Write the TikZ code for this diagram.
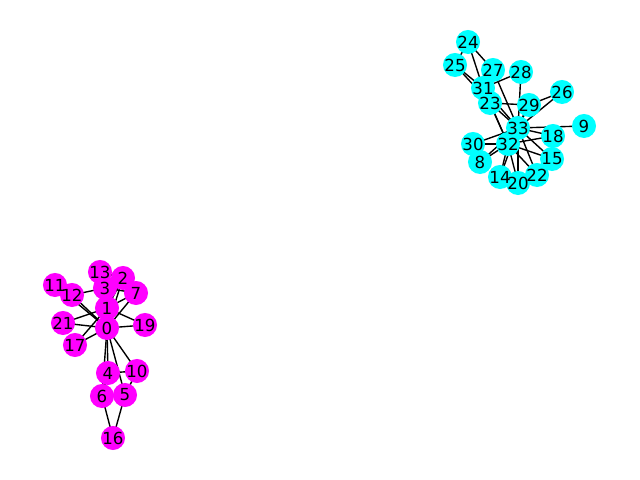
\documentclass[tikz,border=0pt]{standalone}
\usepackage{fontspec}
\setmainfont{DejaVu Sans}
\usetikzlibrary{backgrounds}
\definecolor{cy}{HTML}{00FFFF}
\definecolor{mg}{HTML}{FF00FF}
\begin{document}
\begin{tikzpicture}[x=0.01in,y=-0.01in,
  dotA/.style={circle,fill=mg,draw=none,minimum size=0.24in,inner sep=0pt},
  dotB/.style={circle,fill=cy,draw=none,minimum size=0.24in,inner sep=0pt},
  lab/.style={font=\fontsize{12}{14}\selectfont,inner sep=0pt,text=black},
  edge/.style={draw=black,line width=1pt}]
\useasboundingbox (0,0) rectangle (640,480);
% nodes in order 0..33
\foreach \n/\x/\y/\s in {0/107/328/dotA,1/107/308/dotA,2/123/278/dotA,3/105/288/dotA,4/108/373/dotA,5/125/395/dotA,6/102/396/dotA,7/136/293/dotA,8/480/162/dotB,9/584/126/dotB,10/137/371/dotA,11/55/285/dotA,12/72/295/dotA,13/100/272/dotA,14/500/177/dotB,15/552/159/dotB,16/113/438/dotA,17/75/345/dotA,18/553/136/dotB,19/145/325/dotA,20/518/183/dotB,21/63/323/dotA,22/537/175/dotB,23/490/103/dotB,24/468/42/dotB,25/455/65/dotB,26/562/92/dotB,27/493/70/dotB,28/521/72/dotB,29/529/105/dotB,30/473/144/dotB,31/483/88/dotB,32/508/144/dotB,33/518/128/dotB}
  {\node[\s] (n\n) at (\x,\y) {};}
\foreach \n in {0,...,33}
  {\node[lab] (t\n) at (n\n) {\n};}
\begin{pgfonlayer}{background}
\foreach \a/\b in {0/1,0/2,0/3,0/4,0/5,0/6,0/7,0/10,0/11,0/12,0/13,0/17,0/19,0/21,
  1/2,1/3,1/7,1/13,1/17,1/19,1/21,2/3,2/7,2/13,3/7,3/12,3/13,4/6,4/10,5/6,5/10,5/16,6/16,
  8/30,8/32,8/33,9/33,14/32,14/33,15/32,15/33,18/32,18/33,20/32,20/33,22/32,22/33,
  23/25,23/27,23/29,23/32,23/33,24/25,24/27,24/31,25/31,26/29,26/33,27/33,28/31,28/33,
  29/32,29/33,30/32,30/33,31/32,31/33,32/33}
  {\draw[edge] (n\a.center) -- (n\b.center);}
\end{pgfonlayer}
\end{tikzpicture}
\end{document}
